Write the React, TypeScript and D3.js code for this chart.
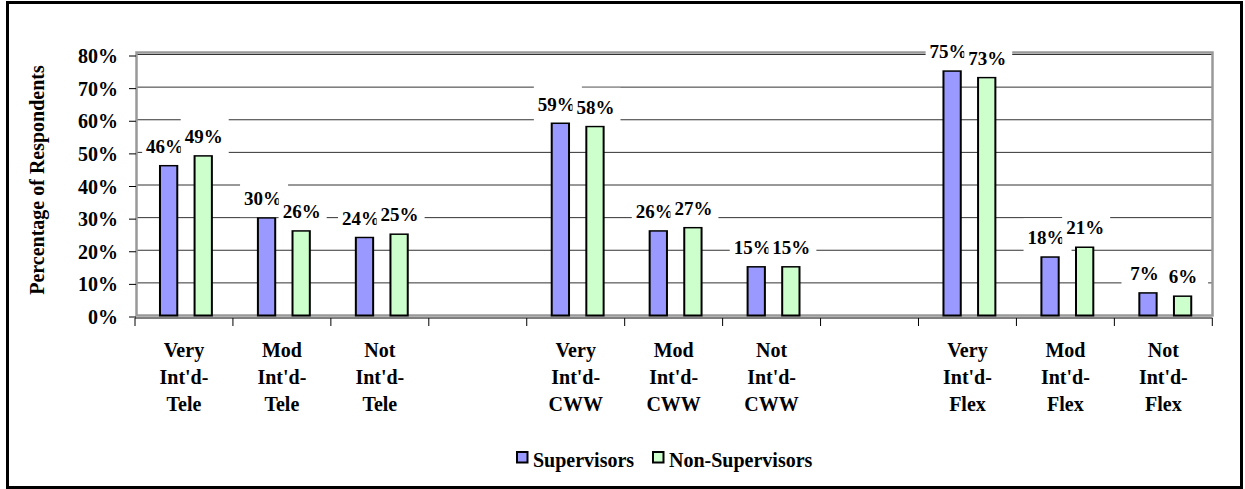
import React from "react";
import * as d3 from "d3";

// Interest in telework, compressed work week and flexible schedules
const categories: string[][] = [
  ["Very", "Int'd-", "Tele"],
  ["Mod", "Int'd-", "Tele"],
  ["Not", "Int'd-", "Tele"],
  [],
  ["Very", "Int'd-", "CWW"],
  ["Mod", "Int'd-", "CWW"],
  ["Not", "Int'd-", "CWW"],
  [],
  ["Very", "Int'd-", "Flex"],
  ["Mod", "Int'd-", "Flex"],
  ["Not", "Int'd-", "Flex"],
];
const supervisors: (number | null)[] = [46, 30, 24, null, 59, 26, 15, null, 75, 18, 7];
const nonSupervisors: (number | null)[] = [49, 26, 25, null, 58, 27, 15, null, 73, 21, 6];
const seriesNames = ["Supervisors", "Non-Supervisors"];
const seriesColors = ["#9999FF", "#CCFFCC"];
const yTicks = [0, 10, 20, 30, 40, 50, 60, 70, 80];

const W = 1245;
const H = 489;
const FONT = "Liberation Serif, Times New Roman, DejaVu Serif, serif";

const plot = { left: 136.5, right: 1212.5, top: 52.5, bottom: 315.5 };

export default function App() {
  const x = d3
    .scaleBand<number>()
    .domain(categories.map((_, i) => i))
    .range([135, 1212.3])
    .padding(0);
  const bw = x.bandwidth();
  const inner = d3
    .scaleBand<string>()
    .domain(seriesNames)
    .range([0.255 * bw, bw - 0.215 * bw])
    .paddingInner(0.5)
    .paddingOuter(0);
  const y = d3.scaleLinear().domain([0, 80]).range([315.5, 54.5]);

  const series = [supervisors, nonSupervisors];
  const labelShift = [-3.5, 0.5];

  const labels: { cx: number; base: number; text: string }[] = [];
  categories.forEach((_, i) => {
    series.forEach((vals, s) => {
      const v = vals[i];
      if (v == null) return;
      const bx = (x(i) as number) + (inner(seriesNames[s]) as number);
      labels.push({
        cx: bx + inner.bandwidth() / 2 + labelShift[s],
        base: y(v) - 12.5,
        text: `${v}%`,
      });
    });
  });

  return (
    <div style={{ position: "absolute", left: 0, top: 0 }}>
      <svg width={W} height={H} style={{ display: "block", background: "#fff", fontFamily: FONT }}>
        <rect x={0} y={0} width={W} height={H} fill="#fff" />
        {/* outer chart border */}
        <rect x={7.5} y={2.5} width={1234} height={485} fill="none" stroke="#000" strokeWidth={3} />

        {/* gridlines */}
        {yTicks.map((t) => (
          <line key={`g${t}`} x1={plot.left} x2={plot.right} y1={y(t)} y2={y(t)} stroke="#333" strokeWidth={1} />
        ))}

        {/* plot area frame */}
        <rect
          x={plot.left}
          y={plot.top}
          width={plot.right - plot.left}
          height={plot.bottom - plot.top}
          fill="none"
          stroke="#999"
          strokeWidth={2.5}
        />

        {/* value axis ticks and labels */}
        {yTicks.map((t) => (
          <g key={`t${t}`}>
            <line x1={129} x2={136} y1={y(t) + 1.5} y2={y(t) + 1.5} stroke="#000" strokeWidth={1} />
            <text x={118} y={y(t) + 1.5} dy="0.35em" textAnchor="end" fontSize={20} fontWeight="bold">
              {`${t}%`}
            </text>
          </g>
        ))}

        {/* category axis */}
        <line x1={135} x2={plot.right} y1={318} y2={318} stroke="#000" strokeWidth={1} />
        {[...categories.map((_, i) => x(i) as number), 1212.3].map((px, i) => (
          <line key={`ct${i}`} x1={px} x2={px} y1={318} y2={326} stroke="#000" strokeWidth={1} />
        ))}
        {categories.map((lines, i) => (
          <text key={`cl${i}`} textAnchor="middle" fontSize={20} fontWeight="bold">
            {lines.map((ln, k) => (
              <tspan key={k} x={(x(i) as number) + bw / 2} y={357 + k * 27}>
                {ln}
              </tspan>
            ))}
          </text>
        ))}

        {/* bars */}
        {categories.map((_, i) =>
          series.map((vals, s) => {
            const v = vals[i];
            if (v == null) return null;
            const bx = (x(i) as number) + (inner(seriesNames[s]) as number);
            return (
              <rect
                key={`b${i}-${s}`}
                x={bx}
                y={y(v)}
                width={inner.bandwidth()}
                height={y(0) - y(v)}
                fill={seriesColors[s]}
                stroke="#000"
                strokeWidth={2}
              />
            );
          })
        )}

        {/* data labels on white boxes */}
        {labels.map((l, k) => (
          <g key={`dl${k}`}>
            <rect x={l.cx - 23} y={l.base - 26} width={48} height={38} fill="#fff" />
            <text x={l.cx} y={l.base} textAnchor="middle" fontSize={19} fontWeight="bold">
              {l.text}
            </text>
          </g>
        ))}

        {/* value axis title */}
        <text transform="translate(44,180) rotate(-90)" textAnchor="middle" fontSize={20} fontWeight="bold">
          Percentage of Respondents
        </text>

        {/* legend */}
        {seriesNames.map((name, s) => {
          const lx = s === 0 ? 517 : 653;
          return (
            <g key={`lg${s}`}>
              <rect x={lx} y={452} width={10.5} height={10.5} fill={seriesColors[s]} stroke="#000" strokeWidth={2} />
              <text x={lx + 16} y={467} fontSize={20} fontWeight="bold">
                {name}
              </text>
            </g>
          );
        })}
      </svg>
    </div>
  );
}
